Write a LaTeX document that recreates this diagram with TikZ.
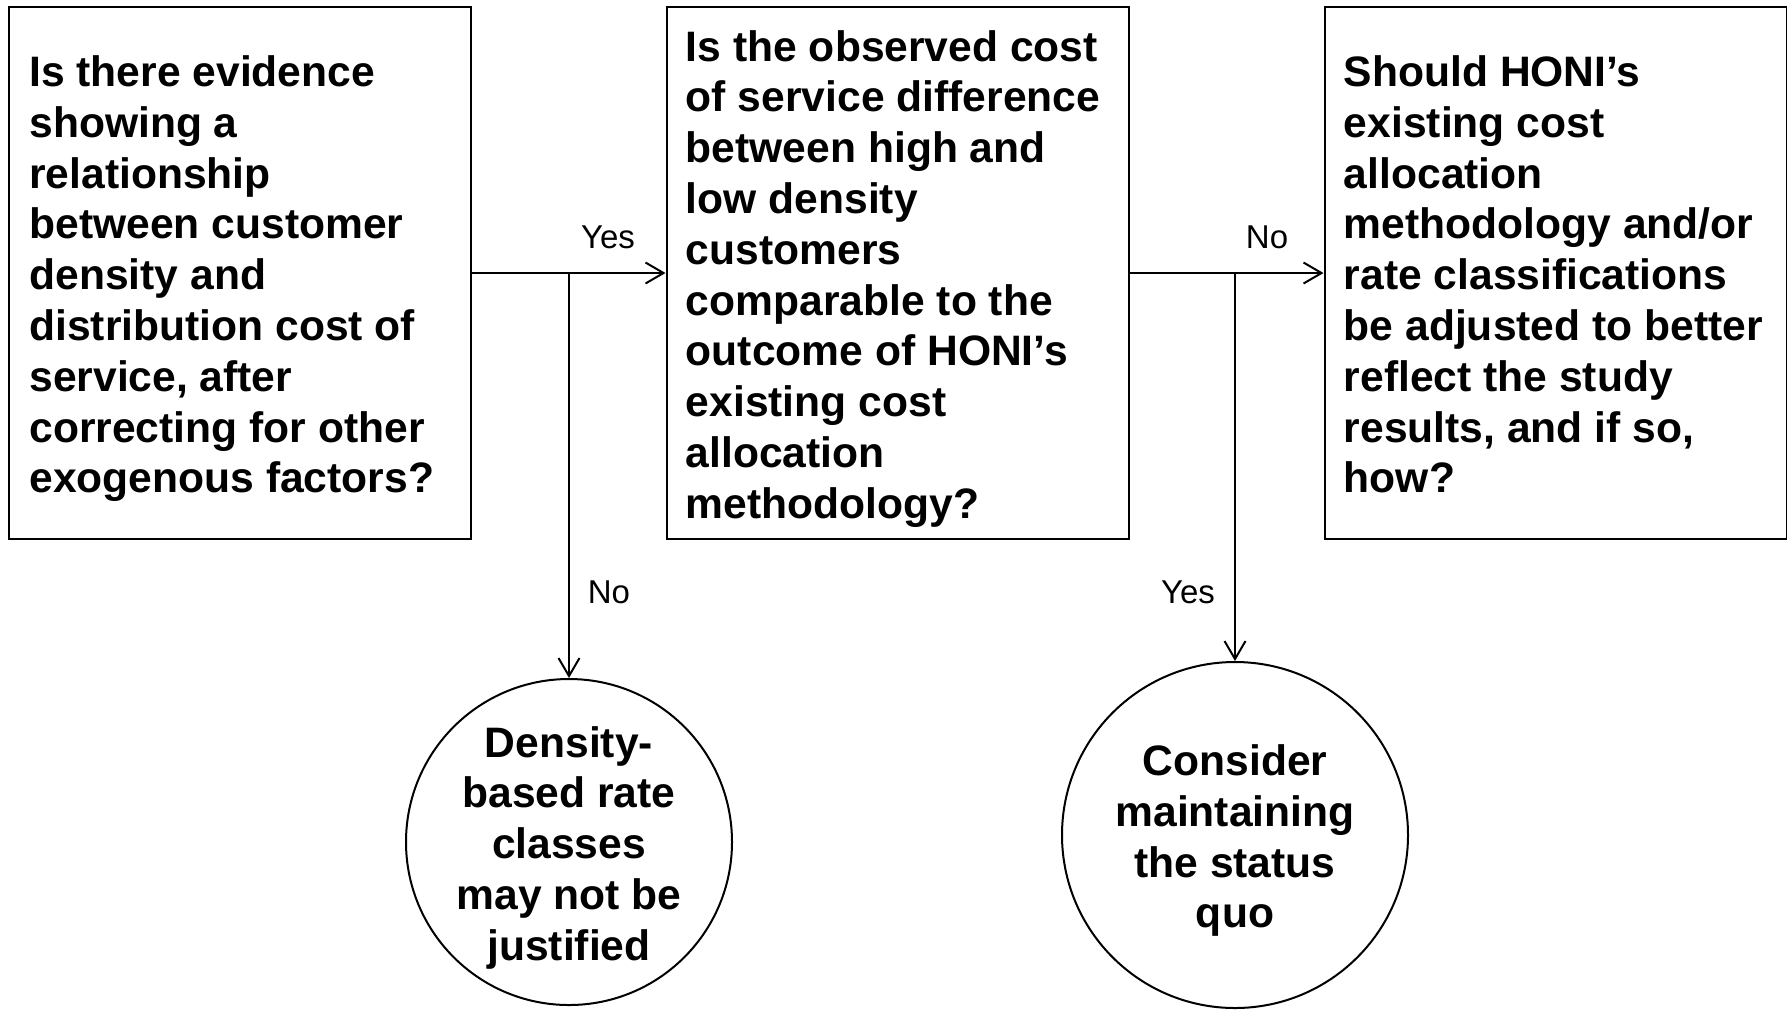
\documentclass[tikz,border=0pt]{standalone}
\usepackage{fontspec}
\setmainfont{Liberation Sans}
\usetikzlibrary{arrows.meta}
\begin{document}
\begin{tikzpicture}[x=0.5pt,y=-0.5pt,
  qbox/.style={draw,line width=1pt,rectangle,minimum width=231pt,minimum height=266pt,inner sep=0pt},
  qtext/.style={anchor=west,inner sep=0pt,align=left,
    font=\fontsize{21.3pt}{25.4pt}\selectfont\bfseries},
  endc/.style={draw,line width=1pt,circle,inner sep=0pt},
  ctext/.style={inner sep=0pt,align=center,
    font=\fontsize{21.3pt}{25.4pt}\selectfont\bfseries},
  conn/.style={line width=1pt,-{Straight Barb[length=9pt,width=10.5pt,line width=1pt]}},
  lbl/.style={font=\fontsize{16.5pt}{19pt}\selectfont,inner sep=0pt}]
\useasboundingbox (0,0) rectangle (1787,1009);
\node[qbox] (b1) at (240,273) {};
\node[qbox] (b2) at (897.5,273) {};
\node[qbox] (b3) at (1555.5,273) {};
\node[qtext] (q1) at ([xshift=10.5pt,yshift=-2.85pt]b1.west) {Is there evidence\\showing a\\relationship\\between customer\\density and\\distribution cost of\\service, after\\correcting for other\\exogenous factors?};
\node[qtext] (q2) at ([xshift=10pt,yshift=-2.85pt]b2.west) {Is the observed cost\\of service difference\\between high and\\low density\\customers\\comparable to the\\outcome of HONI’s\\existing cost\\allocation\\methodology?};
\node[qtext] (q3) at ([xshift=10pt,yshift=-2.85pt]b3.west) {Should HONI’s\\existing cost\\allocation\\methodology and/or\\rate classifications\\be adjusted to better\\reflect the study\\results, and if so,\\how?\vphantom{g}};
\node[endc,minimum size=163pt] (c1) at (569,842) {};
\node[endc,minimum size=173pt] (c2) at (1235,835) {};
\node[ctext] (t1) at ([yshift=-2.85pt]c1.center) {Density-\\based rate\\classes\\may not be\\justified};
\node[ctext] (t2) at ([yshift=-2.85pt]c2.center) {Consider\\maintaining\\the status\\quo};
\coordinate (j1) at (b1.east -| c1.north);
\coordinate (j2) at (b2.east -| c2.north);
\draw[conn] (b1.east) -- (b2.west);
\draw[conn] (j1) -- (c1.north);
\draw[conn] (b2.east) -- (b3.west);
\draw[conn] (j2) -- (c2.north);
\node[lbl] (l1) at (608,237) {Yes};
\node[lbl] (l2) at (609,592) {No};
\node[lbl] (l3) at (1267,237) {No};
\node[lbl] (l4) at (1188,592) {Yes};
\end{tikzpicture}
\end{document}
